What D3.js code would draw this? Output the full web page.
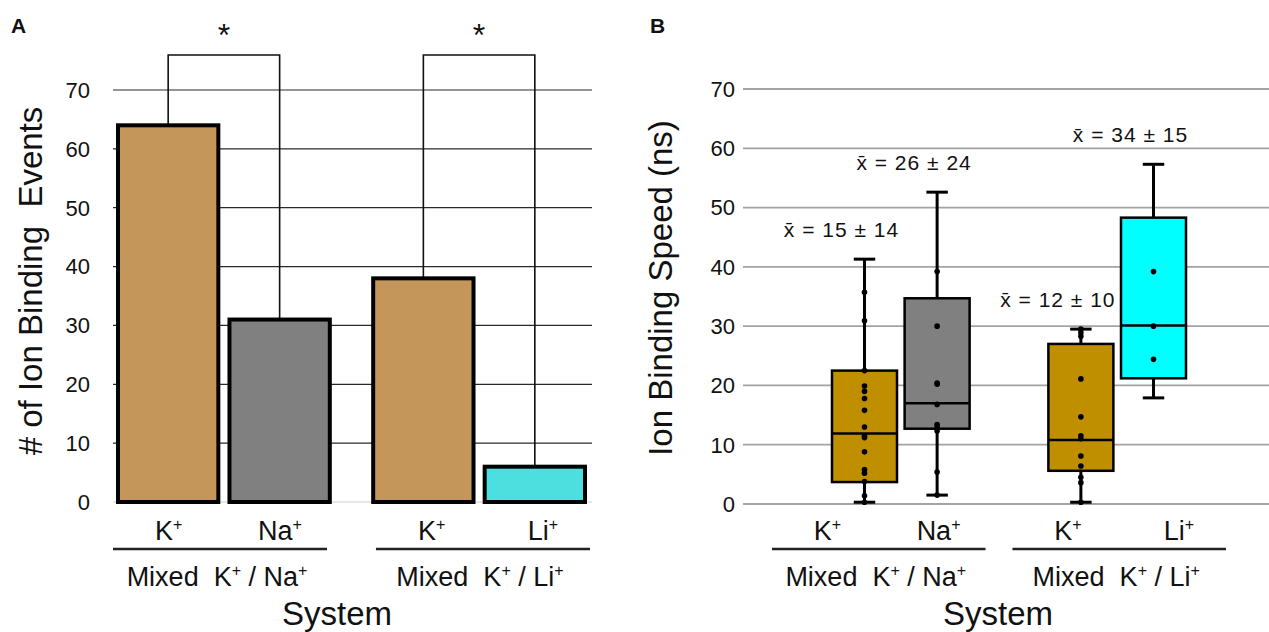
<!DOCTYPE html>
<html lang="en">
<head>
<meta charset="utf-8">
<title>ion_binding</title>
<script src="https://cdn.jsdelivr.net/npm/d3@7"></script>
<style>
  body {margin:0; background:white;}
  svg text {font-family: "Liberation Sans", Arial, sans-serif; fill:#111; white-space:pre;}
</style>
</head>
<body>
<script>
// ---- data, panel A: number of ion binding events ----
const groups = ["KNa", "KLi"];
const groupIons = [["K", "Na"], ["K", "Li"]];
const slots = ["first", "second"];
const barGroup = ["KNa", "KNa", "KLi", "KLi"];
const barSlot = ["first", "second", "first", "second"];
const barIon = ["K", "Na", "K", "Li"];
const eventCounts = [64, 31, 38, 6];
const yTicks = [0, 10, 20, 30, 40, 50, 60, 70];
const sigPairs = [[0, 1], [2, 3]];
const sigMarks = ["*", "*"];

// ---- data, panel B: ion binding speed (ns) ----
const boxLow  = [0.3, 1.5, 0.3, 17.9];
const boxQ1   = [3.7, 12.7, 5.6, 21.2];
const boxMed  = [11.9, 17.0, 10.8, 30.1];
const boxQ3   = [22.5, 34.7, 27.0, 48.3];
const boxHigh = [41.3, 52.6, 29.5, 57.3];
const meanText = ["15 \u00b1 14", "26 \u00b1 24", "12 \u00b1 10", "34 \u00b1 15"];
const speedPoints = [
  [35.7, 30.9, 22.5, 19.9, 19.0, 17.8, 15.8, 13.0, 11.5, 11.2, 8.8, 5.8, 5.2, 3.8, 1.4, 0.3],
  [39.2, 30.0, 20.4, 20.2, 16.8, 13.4, 13.0, 12.3, 5.4, 1.5],
  [29.5, 28.9, 28.3, 21.1, 14.7, 11.5, 11.0, 8.1, 6.4, 4.5, 3.6, 0.3],
  [39.2, 30.0, 24.4]
];

const colorA = {K: "#c4965a", Na: "#808080", Li: "#4ddfdf"};
const colorB = {K: "#bf8f00", Na: "#808080", Li: "#00ffff"};

const svg = d3.select("body").append("svg")
  .attr("width", 1269).attr("height", 632)
  .style("background", "white");

// superscript "+" helper: parts alternate normal / superscript
function richText(sel, parts, big, small) {
  parts.forEach((p, i) => {
    const sup = i % 2 == 1;
    sel.append("tspan")
      .attr("font-size", sup ? small : big)
      .attr("dy", sup ? -big * 0.36 : (i > 0 ? big * 0.36 : 0))
      .text(p);
  });
}

function groupName(g) {
  const ions = groupIons[groups.indexOf(g)];
  return ["Mixed  K", "+", " / " + ions[1], "+"];
}

// ================= Panel A =================
const yA = d3.scaleLinear().domain([0, 70]).range([502, 90]);
const gA = d3.scaleBand().domain(groups).range([118, 585]).paddingInner(0.17);
const sA = d3.scaleBand().domain(slots).range([0, gA.bandwidth()]).paddingInner(0.1);
const barX = i => gA(barGroup[i]) + sA(barSlot[i]);
const barCx = i => barX(i) + sA.bandwidth() / 2;

const pA = svg.append("g");
pA.append("text").attr("x", 11).attr("y", 33).attr("font-size", 21).attr("font-weight", "bold").text("A");

pA.append("g").selectAll("line").data(yTicks).join("line")
  .attr("x1", 113).attr("x2", 592)
  .attr("y1", d => yA(d)).attr("y2", d => yA(d))
  .attr("stroke", d => d == 0 ? "#cfcfcf" : "#2a2a2a").attr("stroke-width", 1.2);

pA.append("g").selectAll("text").data(yTicks).join("text")
  .attr("x", 90).attr("y", d => yA(d)).attr("dy", "0.36em")
  .attr("text-anchor", "end").attr("font-size", 22).text(d => d);

// significance brackets
sigPairs.forEach((pr, k) => {
  const a = pr[0], b = pr[1];
  const top = 55;
  pA.append("path")
    .attr("d", `M${barCx(a)},${yA(eventCounts[a])}V${top}H${barCx(b)}V${yA(eventCounts[b])}`)
    .attr("fill", "none").attr("stroke", "#111").attr("stroke-width", 1.6);
  pA.append("text").attr("x", (barCx(a) + barCx(b)) / 2).attr("y", 46)
    .attr("text-anchor", "middle").attr("font-size", 32).text(sigMarks[k]);
});

pA.append("g").selectAll("rect").data(eventCounts).join("rect")
  .attr("x", (d, i) => barX(i)).attr("width", sA.bandwidth())
  .attr("y", d => yA(d)).attr("height", d => yA(0) - yA(d))
  .attr("fill", (d, i) => colorA[barIon[i]])
  .attr("stroke", "#000").attr("stroke-width", 4);

// category labels
function categoryAxis(g, lg, centerSys) {
  const slotPos = d3.scalePoint().domain(slots).range([lg.bandwidth() * 0.26, lg.bandwidth() * 0.78]);
  groups.forEach((grp, gi) => {
    const x0 = lg(grp);
    slots.forEach((s, si) => {
      const t = g.append("text").attr("x", x0 + slotPos(s)).attr("y", 540).attr("text-anchor", "middle");
      richText(t, [groupIons[gi][si], "+"], 27, 16);
    });
    g.append("line").attr("x1", x0).attr("x2", x0 + lg.bandwidth())
      .attr("y1", 549).attr("y2", 549).attr("stroke", "#222").attr("stroke-width", 2.5);
    const t2 = g.append("text").attr("x", x0 + lg.bandwidth() / 2 - 3).attr("y", 586).attr("text-anchor", "middle");
    richText(t2, groupName(grp), 27, 16);
  });
  g.append("text").attr("x", centerSys).attr("y", 625).attr("text-anchor", "middle")
    .attr("font-size", 33).text("System");
}
const lgA = d3.scaleBand().domain(groups).range([113, 590]).paddingInner(0.186);
categoryAxis(pA, lgA, 337);

pA.append("text").attr("transform", "translate(42,281) rotate(-90)")
  .attr("text-anchor", "middle").attr("font-size", 33).text("# of Ion Binding  Events");

// ================= Panel B =================
const yB = d3.scaleLinear().domain([0, 70]).range([504, 89]);
const gB = d3.scaleBand().domain(groups).range([832, 1186]).paddingInner(0.364);
const sB = d3.scaleBand().domain(slots).range([0, gB.bandwidth()]).paddingInner(0.105);
const boxX = i => gB(barGroup[i]) + sB(barSlot[i]);
const boxCx = i => boxX(i) + sB.bandwidth() / 2;
const capW = sB.bandwidth() * 0.33;

const pB = svg.append("g");
pB.append("text").attr("x", 650).attr("y", 33).attr("font-size", 21).attr("font-weight", "bold").text("B");

pB.append("g").selectAll("line").data(yTicks).join("line")
  .attr("x1", 743).attr("x2", 1269)
  .attr("y1", d => yB(d)).attr("y2", d => yB(d))
  .attr("stroke", "#a3a3a3").attr("stroke-width", 1.8);

pB.append("g").selectAll("text").data(yTicks).join("text")
  .attr("x", 735).attr("y", d => yB(d)).attr("dy", "0.36em")
  .attr("text-anchor", "end").attr("font-size", 22).text(d => d);

const boxes = pB.append("g").selectAll("g").data(boxMed).join("g");
boxes.append("line")
  .attr("x1", (d, i) => boxCx(i)).attr("x2", (d, i) => boxCx(i))
  .attr("y1", (d, i) => yB(boxLow[i])).attr("y2", (d, i) => yB(boxHigh[i]))
  .attr("stroke", "#000").attr("stroke-width", 3);
[boxLow, boxHigh].forEach(arr => {
  boxes.append("line")
    .attr("x1", (d, i) => boxCx(i) - capW / 2).attr("x2", (d, i) => boxCx(i) + capW / 2)
    .attr("y1", (d, i) => yB(arr[i])).attr("y2", (d, i) => yB(arr[i]))
    .attr("stroke", "#000").attr("stroke-width", 3);
});
boxes.append("rect")
  .attr("x", (d, i) => boxX(i)).attr("width", sB.bandwidth())
  .attr("y", (d, i) => yB(boxQ3[i])).attr("height", (d, i) => yB(boxQ1[i]) - yB(boxQ3[i]))
  .attr("fill", (d, i) => colorB[barIon[i]])
  .attr("stroke", "#000").attr("stroke-width", 2.5);
boxes.append("line")
  .attr("x1", (d, i) => boxX(i)).attr("x2", (d, i) => boxX(i) + sB.bandwidth())
  .attr("y1", d => yB(d)).attr("y2", d => yB(d))
  .attr("stroke", "#000").attr("stroke-width", 2.5);
boxes.each(function(d, i) {
  d3.select(this).selectAll("circle").data(speedPoints[i]).join("circle")
    .attr("cx", boxCx(i)).attr("cy", v => yB(v)).attr("r", 2.8).attr("fill", "#000");
});
boxes.append("text")
  .attr("x", (d, i) => boxCx(i) - 23).attr("y", (d, i) => yB(boxHigh[i]) - 22)
  .attr("text-anchor", "middle").attr("font-size", 21).attr("letter-spacing", 1)
  .text((d, i) => "x\u0304 = " + meanText[i]);

const lgB = d3.scaleBand().domain(groups).range([772, 1226]).paddingInner(0.112);
categoryAxis(pB, lgB, 998);

pB.append("text").attr("transform", "translate(672,288) rotate(-90)")
  .attr("text-anchor", "middle").attr("font-size", 33).text("Ion Binding Speed (ns)");
</script>
</body>
</html>
